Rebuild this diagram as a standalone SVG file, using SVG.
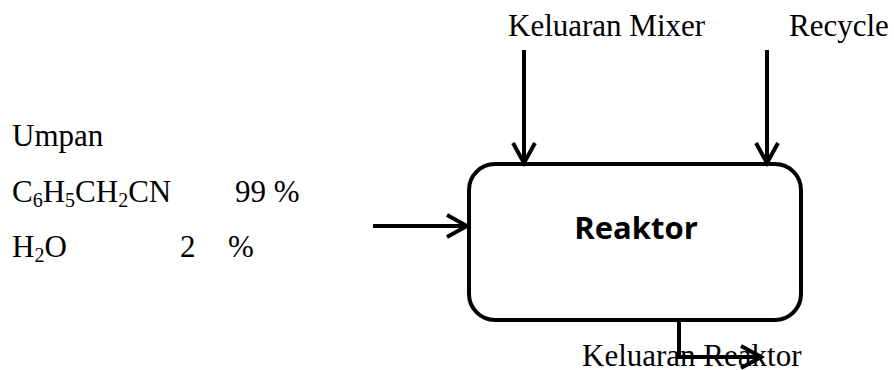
<svg xmlns="http://www.w3.org/2000/svg" width="894" height="370" viewBox="0 0 894 370">
<style>
.t{font-family:"Liberation Serif","Times New Roman",serif;font-size:31px;fill:#000}
.sub{font-size:20px}
.lbl{font-family:"Open Sans","Liberation Sans",sans-serif;font-weight:700;font-size:31px;fill:#000}
.ln{fill:none;stroke:#000;stroke-width:4;marker-end:url(#arr)}
</style>
<defs>
<marker id="arr" viewBox="-24 -14 28 28" markerWidth="28" markerHeight="28" refX="0" refY="0" orient="auto" markerUnits="userSpaceOnUse">
<path d="M-20,-11 L0,0 L-20,11" fill="none" stroke="#000" stroke-width="4"/>
</marker>
</defs>
<rect width="894" height="370" fill="#fff"/>
<g id="feed">
<text class="t" x="12" y="146">Umpan</text>
<text class="t" x="12" y="202">C<tspan class="sub" dy="5">6</tspan><tspan dy="-5">H</tspan><tspan class="sub" dy="5">5</tspan><tspan dy="-5">CH</tspan><tspan class="sub" dy="5">2</tspan><tspan dy="-5">CN</tspan></text>
<text class="t" x="235" y="202">99 %</text>
<text class="t" x="12" y="257">H<tspan class="sub" dy="5">2</tspan><tspan dy="-5">O</tspan></text>
<text class="t" x="180" y="257">2</text>
<text class="t" x="228" y="257">%</text>
</g>
<g id="reaktor">
<rect x="469" y="164" width="332" height="156" rx="26" ry="26" fill="#fff" stroke="#000" stroke-width="4"/>
<text class="lbl" x="636" y="239" text-anchor="middle">Reaktor</text>
</g>
<g id="mixer">
<text class="t" x="508" y="36">Keluaran Mixer</text>
</g>
<g id="recycle">
<text class="t" x="789" y="36">Recycle</text>
</g>
<g id="product">
<text class="t" x="582" y="366">Keluaran Reaktor</text>
</g>
<g id="connectors">
<line class="ln" x1="373" y1="226" x2="467" y2="226"/>
<line class="ln" x1="524" y1="50" x2="524" y2="163"/>
<line class="ln" x1="767" y1="50" x2="767" y2="163"/>
<polyline class="ln" points="679,320 679,357 761,357"/>
</g>
</svg>
